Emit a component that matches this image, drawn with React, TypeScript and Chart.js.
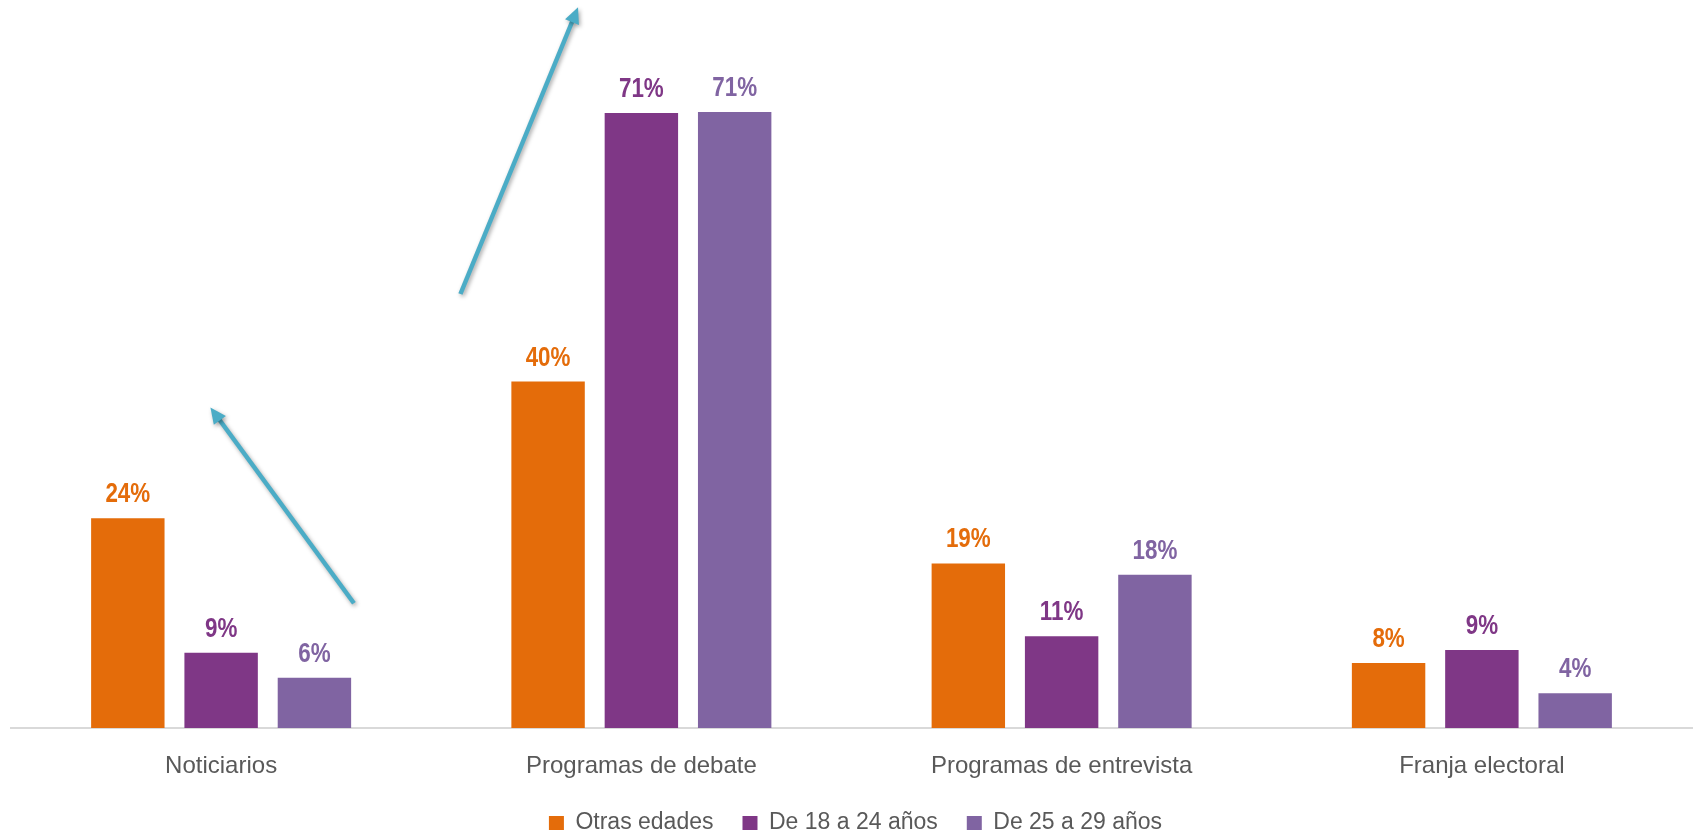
import React, { useEffect, useRef } from "react";
import { Chart, registerables } from "chart.js";

Chart.register(...registerables);

const categories = ["Noticiarios", "Programas de debate", "Programas de entrevista", "Franja electoral"];
const seriesNames = ["Otras edades", "De 18 a 24 años", "De 25 a 29 años"];
const otrasEdades = [24.2, 40.0, 19.0, 7.5];
const de18a24 = [8.7, 71.0, 10.6, 9.0];
const de25a29 = [5.8, 71.1, 17.7, 4.0];
const seriesColors = ["#E46C0A", "#7F3786", "#8064A2"];
// decorative arrows in data coordinates: [fromIndex, fromValue, toIndex, toValue]
const arrows = [
  [0.316, 14.4, -0.0255, 37.0],
  [0.5694, 50.1, 0.8493, 83.2],
];

const labelPlugin = {
  id: "barLabels",
  afterDatasetsDraw(chart: any) {
    const ctx = chart.ctx;
    chart.data.datasets.forEach((ds: any, di: number) => {
      const meta = chart.getDatasetMeta(di);
      meta.data.forEach((bar: any, i: number) => {
        const v = ds.data[i];
        const text = Math.round(v) + "%";
        ctx.save();
        ctx.translate(bar.x, bar.y - 16);
        ctx.scale(0.8, 1);
        ctx.font = "bold 28px 'Liberation Sans', Arial, sans-serif";
        ctx.fillStyle = seriesColors[di];
        ctx.textAlign = "center";
        ctx.textBaseline = "alphabetic";
        ctx.fillText(text, 0, 0);
        ctx.restore();
      });
    });
  },
};

const legendShiftPlugin = {
  id: "legendShift",
  afterLayout(chart: any) {
    if (chart.legend) {
      chart.legend.left += 4;
      chart.legend.right += 4;
    }
  },
};

const arrowPlugin = {
  id: "arrows",
  afterDraw(chart: any) {
    const ctx = chart.ctx;
    const xs = chart.scales.x;
    const ys = chart.scales.y;
    arrows.forEach(([x0, y0, x1, y1]) => {
      const px0 = xs.getPixelForValue(x0);
      const py0 = ys.getPixelForValue(y0);
      const px1 = xs.getPixelForValue(x1);
      const py1 = ys.getPixelForValue(y1);
      const ang = Math.atan2(py1 - py0, px1 - px0);
      const headLen = 16;
      const headHalf = 7.5;
      const bx = px1 - headLen * Math.cos(ang);
      const by = py1 - headLen * Math.sin(ang);
      ctx.save();
      ctx.shadowColor = "rgba(0,0,0,0.35)";
      ctx.shadowBlur = 4;
      ctx.shadowOffsetX = 1.5;
      ctx.shadowOffsetY = 2;
      ctx.strokeStyle = "#4BACC6";
      ctx.fillStyle = "#4BACC6";
      ctx.lineWidth = 4.5;
      ctx.beginPath();
      ctx.moveTo(px0, py0);
      ctx.lineTo(bx + 2 * Math.cos(ang), by + 2 * Math.sin(ang));
      ctx.stroke();
      ctx.beginPath();
      ctx.moveTo(px1, py1);
      ctx.lineTo(bx + headHalf * Math.sin(ang), by - headHalf * Math.cos(ang));
      ctx.lineTo(bx - headHalf * Math.sin(ang), by + headHalf * Math.cos(ang));
      ctx.closePath();
      ctx.fill();
      ctx.restore();
    });
  },
};

export default function App() {
  const canvasRef = useRef<HTMLCanvasElement | null>(null);

  useEffect(() => {
    document.body.style.margin = "0";
    const canvas = canvasRef.current;
    if (!canvas) return;
    const values = [otrasEdades, de18a24, de25a29];
    const chart = new Chart(canvas, {
      type: "bar",
      data: {
        labels: categories,
        datasets: seriesNames.map((name, i) => ({
          label: name,
          data: values[i],
          backgroundColor: seriesColors[i],
          borderWidth: 0,
          categoryPercentage: 0.666,
          barPercentage: 0.787,
        })),
      },
      options: {
        animation: false,
        responsive: false,
        maintainAspectRatio: false,
        layout: { padding: { left: 11, right: 3, top: 35, bottom: 0 } },
        plugins: {
          legend: {
            position: "bottom",
            maxHeight: 52.5,
            labels: {
              boxWidth: 15,
              boxHeight: 14,
              padding: 29,
              color: "#595959",
              font: { family: "'Liberation Sans', Arial, sans-serif", size: 23 },
            },
          },
          tooltip: { enabled: false },
        },
        scales: {
          x: {
            grid: { display: false, drawTicks: false },
            border: { display: true, color: "#D9D9D9", width: 2 },
            afterFit: (scale: any) => {
              scale.height = 54.5;
            },
            ticks: {
              padding: 28.5,
              color: "#595959",
              maxRotation: 0,
              autoSkip: false,
              font: { family: "'Liberation Sans', Arial, sans-serif", size: 24, lineHeight: 0.8 },
            },
          },
          y: {
            display: false,
            min: 0,
            max: 80,
          },
        },
      },
      plugins: [labelPlugin, arrowPlugin, legendShiftPlugin],
    });
    return () => chart.destroy();
  }, []);

  return (
    <div style={{ width: 1695, height: 835, position: "relative" }}>
      <canvas ref={canvasRef} width={1695} height={835} style={{ display: "block" }} />
    </div>
  );
}
